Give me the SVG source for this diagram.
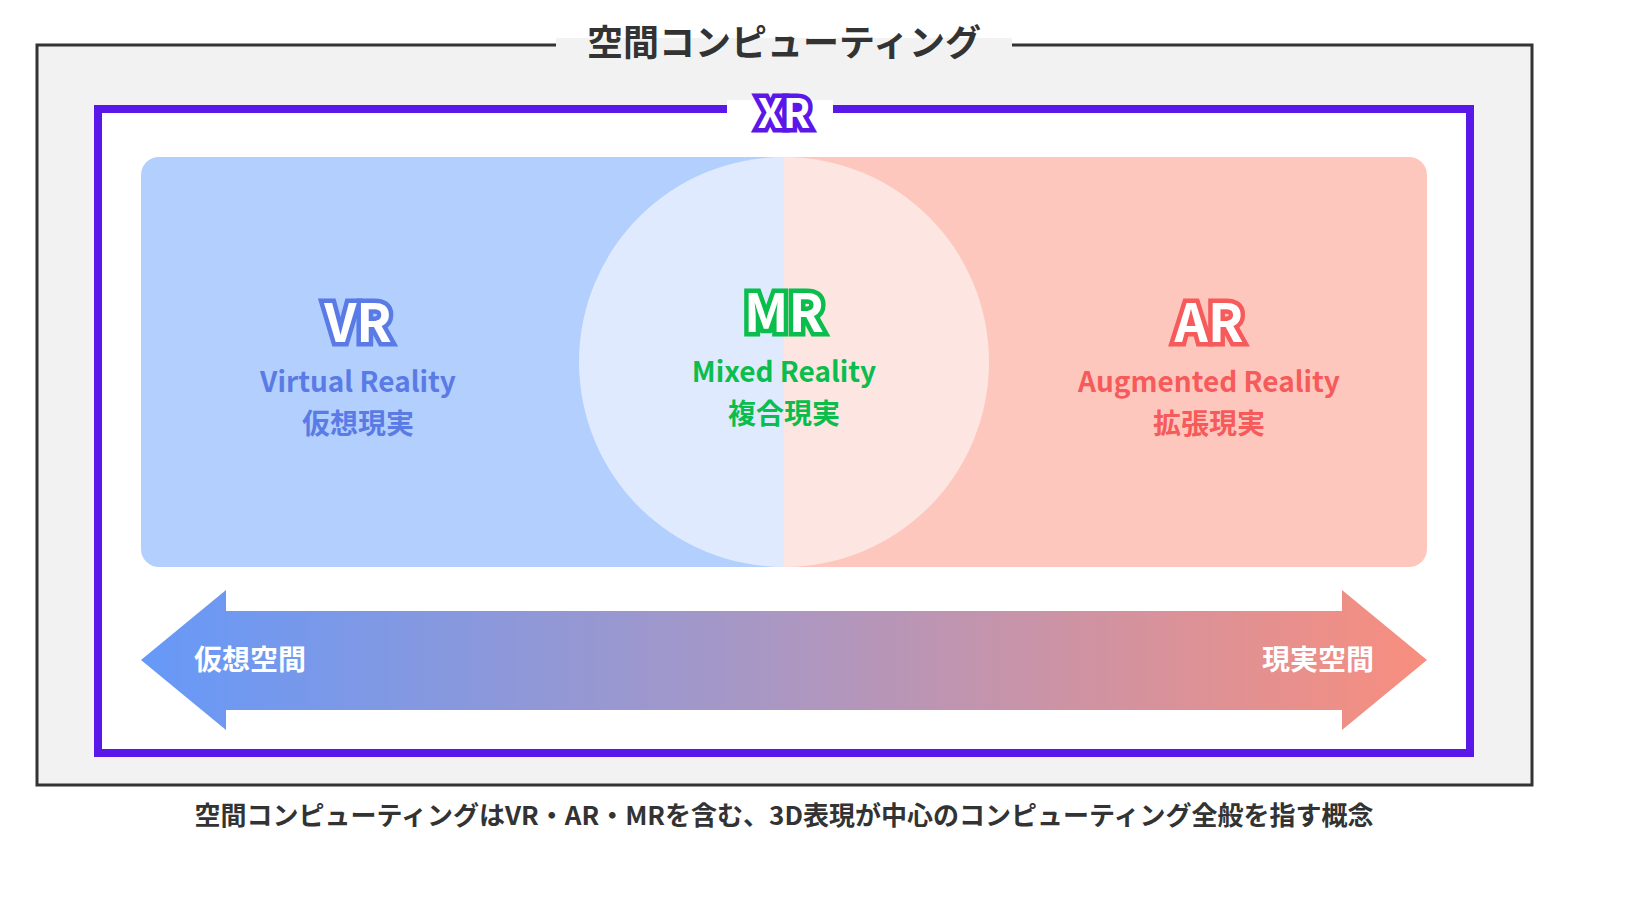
<svg xmlns="http://www.w3.org/2000/svg" width="1640" height="920" viewBox="0 0 1640 920">
<style>
text{font-family:"Noto Sans CJK JP","Noto Sans",sans-serif;font-weight:700;text-anchor:middle}
.big{font-size:52px;fill:#fff;stroke-width:9;paint-order:stroke;stroke-linejoin:miter}
.sub{font-size:28px}
</style>
<defs>
<linearGradient id="g" x1="141" x2="1427" y1="0" y2="0" gradientUnits="userSpaceOnUse">
<stop offset="0" stop-color="#6699f8"/><stop offset="0.5" stop-color="#ab97c2"/><stop offset="1" stop-color="#f88e7e"/>
</linearGradient>
<clipPath id="cl"><rect x="0" y="0" width="784" height="920"/></clipPath>
<clipPath id="cr"><rect x="784" y="0" width="856" height="920"/></clipPath>
</defs>
<rect width="1640" height="920" fill="#fff"/>
<g id="outer">
<rect x="37" y="45" width="1495" height="740" fill="#f2f2f2" stroke="#333" stroke-width="3"/>
<rect x="556" y="38" width="456" height="14" fill="#f2f2f2"/>
<text x="784" y="56" font-size="36" fill="#333">空間コンピューティング</text>
</g>
<g id="xr">
<rect x="98" y="109" width="1372" height="644" fill="#fff" stroke="#5b16e8" stroke-width="8"/>
<rect x="727" y="100" width="106" height="18" fill="#fff"/>
<text x="784" y="128" class="big" font-size="40" stroke="#5b16e8" style="font-size:40px">XR</text>
</g>
<g id="panels">
<rect x="141" y="157" width="1286" height="410" rx="18" fill="#b3cffe" clip-path="url(#cl)"/>
<rect x="141" y="157" width="1286" height="410" rx="18" fill="#fec7bd" clip-path="url(#cr)"/>
<circle cx="784" cy="362" r="205" fill="#dfeafe" clip-path="url(#cl)"/>
<circle cx="784" cy="362" r="205" fill="#fde6e2" clip-path="url(#cr)"/>
</g>
<g id="vr">
<text x="358" y="342" class="big" stroke="#5a7be6">VR</text>
<text x="358" y="392" class="sub" fill="#5a7be6">Virtual Reality</text>
<text x="358" y="434" class="sub" fill="#5a7be6">仮想現実</text>
</g>
<g id="mr">
<text x="784" y="332" class="big" stroke="#0bbd4d">MR</text>
<text x="784" y="382" class="sub" fill="#0bbd4d">Mixed Reality</text>
<text x="784" y="424" class="sub" fill="#0bbd4d">複合現実</text>
</g>
<g id="ar">
<text x="1209" y="342" class="big" stroke="#f65a5a">AR</text>
<text x="1209" y="392" class="sub" fill="#f65a5a">Augmented Reality</text>
<text x="1209" y="434" class="sub" fill="#f65a5a">拡張現実</text>
</g>
<g id="connectors">
<polygon points="141,660 226,590 226,611 1342,611 1342,590 1427,660 1342,730 1342,710 226,710 226,730" fill="url(#g)"/>
<text x="250" y="670" class="sub" fill="#fff">仮想空間</text>
<text x="1318" y="670" class="sub" fill="#fff">現実空間</text>
</g>
<text x="784" y="825" font-size="26" fill="#333">空間コンピューティングはVR・AR・MRを含む、3D表現が中心のコンピューティング全般を指す概念</text>
</svg>
